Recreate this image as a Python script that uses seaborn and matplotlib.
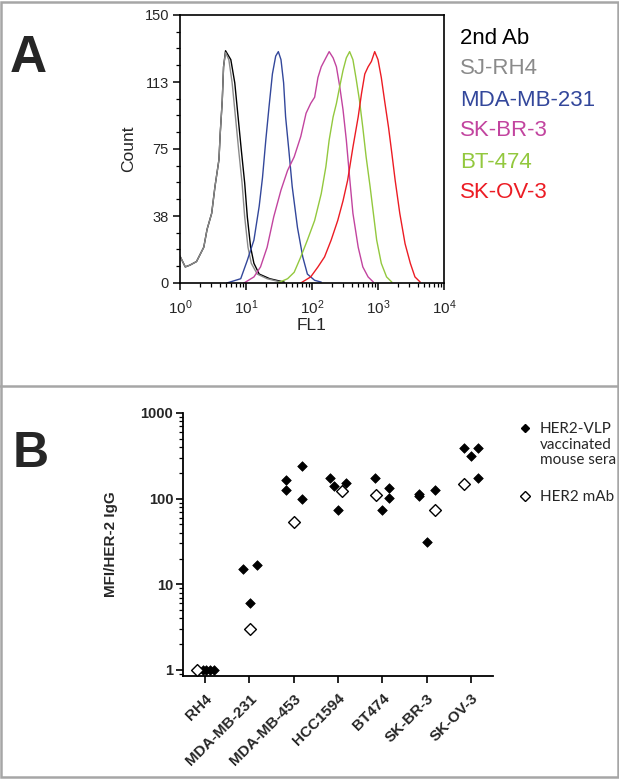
import numpy as np
import pandas as pd
import seaborn as sns
import matplotlib.pyplot as plt
from matplotlib.lines import Line2D
from matplotlib.ticker import FixedLocator, LogLocator, NullFormatter, AutoMinorLocator

# --- panel A : FACS histograms (x = log10 FL1, y = count)
ab2_log = [0.00, 0.08, 0.15, 0.25, 0.36, 0.41, 0.48, 0.53, 0.59, 0.61, 0.64, 0.66, 0.69,
           0.77, 0.83, 0.88, 0.93, 0.98, 1.02, 1.07, 1.12, 1.20, 1.36, 1.58]
ab2_cnt = [15, 9, 10, 12, 20, 30, 39, 54, 69, 84, 102, 121, 130,
           125, 112, 93, 74, 56, 37, 20, 11, 5, 2.4, 0.5]
rh4_log = [0.00, 0.08, 0.15, 0.25, 0.36, 0.41, 0.48, 0.53, 0.59, 0.61, 0.64, 0.66, 0.69,
           0.74, 0.79, 0.84, 0.89, 0.94, 0.98, 1.03, 1.08, 1.17, 1.32, 1.53]
rh4_cnt = [15, 9, 10, 12, 20, 30, 39, 54, 69, 84, 102, 121, 129,
           125, 112, 93, 74, 56, 37, 20, 11, 5, 2.4, 0.5]
mda231_log = [0.71, 0.92, 1.02, 1.12, 1.20, 1.25, 1.30, 1.35, 1.40, 1.45, 1.49,
              1.53, 1.57, 1.60, 1.65, 1.70, 1.78, 1.86, 1.93, 2.04, 2.14]
mda231_cnt = [0, 2.4, 12.7, 24, 43, 59, 80, 99, 117, 127, 129.5,
              125, 112, 93, 74, 54, 31, 14.6, 5, 1.5, 0.5]
skbr3_log = [0.97, 1.12, 1.22, 1.32, 1.42, 1.53, 1.63, 1.73, 1.83, 1.91, 1.98, 2.04, 2.09, 2.14,
             2.21, 2.26, 2.32, 2.37, 2.42, 2.47, 2.52, 2.57, 2.62, 2.70, 2.77, 2.85, 2.93]
skbr3_cnt = [0, 3.4, 9, 20, 37, 52, 63, 70.6, 82, 95, 100.5, 104, 115, 121,
             126, 129.5, 126, 121, 110, 97, 80, 59, 39, 20, 9, 3.4, 0.5]
bt474_log = [1.48, 1.63, 1.73, 1.83, 1.93, 2.04, 2.14, 2.21, 2.26, 2.32, 2.37, 2.42, 2.47,
             2.52, 2.57, 2.62, 2.67, 2.72, 2.77, 2.82, 2.88, 2.93, 2.98, 3.05, 3.13, 3.21]
bt474_cnt = [0, 2.4, 6, 14.6, 24, 35, 50, 65, 80, 93, 100.5, 110, 119,
             126, 129.5, 125, 114, 102, 87, 70.6, 54, 39, 24, 11, 3.4, 0.5]
skov3_log = [1.83, 1.98, 2.09, 2.19, 2.29, 2.39, 2.47, 2.54, 2.62, 2.70, 2.75, 2.80, 2.85,
             2.90, 2.95, 3.00, 3.05, 3.10, 3.16, 3.21, 3.26, 3.33, 3.41, 3.49, 3.56, 3.64]
skov3_cnt = [0, 3.4, 9, 14.6, 24, 35, 46, 57.5, 76, 93, 106, 117, 121,
             124, 129.5, 125, 115, 102, 87, 72.5, 57.5, 39, 22, 11, 3.4, 0.5]

hist_names = ["2nd Ab", "SJ-RH4", "MDA-MB-231", "SK-BR-3", "BT-474", "SK-OV-3"]
hist_logs = [ab2_log, rh4_log, mda231_log, skbr3_log, bt474_log, skov3_log]
hist_cnts = [ab2_cnt, rh4_cnt, mda231_cnt, skbr3_cnt, bt474_cnt, skov3_cnt]
hist_colors = ["#000000", "#8a8a8a", "#33479b", "#c2449f", "#93c83e", "#ec1c24"]

count_ticks = [0, 37.5, 75, 112.5, 150]
count_labels = ["0", "38", "75", "113", "150"]

# --- panel B : MFI / HER-2 IgG per cell line
cell_lines = ["RH4", "MDA-MB-231", "MDA-MB-453", "HCC1594", "BT474", "SK-BR-3", "SK-OV-3"]
sera_cell = [0, 0, 0, 0, 1, 1, 1, 2, 2, 2, 2, 3, 3, 3, 3, 4, 4, 4, 4, 5, 5, 5, 5, 6, 6, 6, 6]
sera_jit = [-0.05, 0.03, 0.11, 0.19, -0.14, 0.02, 0.18, -0.18, -0.18, 0.18, 0.18,
            -0.18, -0.09, 0.0, 0.18, -0.16, 0.0, 0.16, 0.16, -0.16, -0.16, 0.0, 0.18,
            -0.16, 0.16, 0.0, 0.16]
sera_mfi = [1, 1, 1, 1, 15, 6, 17, 166, 127, 242, 100, 175, 142, 74.5, 153,
            175, 74, 134, 103, 114, 108, 31, 127, 392, 392, 316, 175]
mab_cell = [0, 1, 2, 3, 4, 5, 6]
mab_jit = [-0.18, 0.02, 0.0, 0.09, -0.14, 0.18, -0.16]
mab_mfi = [1, 3, 54, 124, 111, 74.5, 149]

sns.set_theme(style="ticks")
plt.rcParams["font.family"] = ["Liberation Sans", "DejaVu Sans"]

W, H = 619, 779
fig = plt.figure(figsize=(W / 100, H / 100), dpi=100)

# ---------------- panel A
ax1 = fig.add_axes([180 / W, 1 - 283 / H, 264 / W, 268 / H])
for name, lg, cn, col in zip(hist_names, hist_logs, hist_cnts, hist_colors):
    d = pd.DataFrame({"FL1": 10 ** np.array(lg), "Count": cn})
    sns.lineplot(data=d, x="FL1", y="Count", color=col, lw=1.0, sort=False,
                 estimator=None, ax=ax1)
ax1.set_xscale("log")
ax1.set_xlim(1, 1e4)
ax1.set_ylim(0, 150)
ax1.yaxis.set_major_locator(FixedLocator(count_ticks))
ax1.set_yticklabels(count_labels)
ax1.yaxis.set_minor_locator(AutoMinorLocator(4))
ax1.xaxis.set_minor_locator(LogLocator(base=10, subs=np.arange(2, 10)))
ax1.xaxis.set_minor_formatter(NullFormatter())
for s in ax1.spines.values():
    s.set_linewidth(1.2)
    s.set_color("black")
ax1.tick_params(which="major", length=5, width=1.1, labelsize=10.5, color="black", pad=3)
ax1.tick_params(which="minor", length=3, width=0.9, color="black")
ax1.tick_params(axis="x", labelsize=11, pad=6)
ax1.set_xlabel("FL1", fontsize=12.5, labelpad=1)
ax1.set_ylabel("Count", fontsize=12.5, labelpad=6)

for i, (name, col) in enumerate(zip(hist_names, hist_colors)):
    fig.text(460 / W, 1 - (38 + 31 * i) / H, name, color=col, fontsize=16, va="center")

# ---------------- panel B
ax2 = fig.add_axes([183 / W, 1 - 676 / H, 310 / W, 263 / H])
sera = pd.DataFrame({"x": np.array(sera_cell) + np.array(sera_jit), "MFI": sera_mfi})
mab = pd.DataFrame({"x": np.array(mab_cell) + np.array(mab_jit), "MFI": mab_mfi})
sns.scatterplot(data=sera, x="x", y="MFI", marker="D", color="black", edgecolor="black",
                s=24, linewidth=0.5, ax=ax2, zorder=3)
sns.scatterplot(data=mab, x="x", y="MFI", marker="D", facecolor="white", edgecolor="black",
                s=36, linewidth=1.0, ax=ax2, zorder=4)
ax2.set_yscale("log")
ax2.set_ylim(0.851, 1000)
ax2.set_xlim(-0.5, 6.5)
ax2.set_xticks(range(len(cell_lines)))
ax2.set_xticklabels(cell_lines, rotation=45, ha="right", rotation_mode="anchor",
                    fontweight="bold", fontsize=11)
ax2.set_yticks([1, 10, 100, 1000])
ax2.set_yticklabels(["1", "10", "100", "1000"], fontweight="bold", fontsize=10.5)
ax2.yaxis.set_minor_locator(LogLocator(base=10, subs=np.arange(2, 10)))
ax2.yaxis.set_minor_formatter(NullFormatter())
sns.despine(ax=ax2)
for s in ["left", "bottom"]:
    ax2.spines[s].set_linewidth(1.3)
    ax2.spines[s].set_color("black")
ax2.tick_params(which="major", length=5, width=1.2, color="black", pad=2)
ax2.tick_params(which="minor", length=3, width=0.9, color="black")
ax2.tick_params(axis="x", pad=6)
ax2.set_xlabel("")
ax2.set_ylabel("MFI/HER-2 IgG", fontweight="bold", fontsize=11, labelpad=16)

h_fill = Line2D([], [], marker="D", color="black", ls="none", ms=4.2)
h_none = Line2D([], [], ls="none")
h_open = Line2D([], [], marker="D", mfc="white", mec="black", mew=1.0, ls="none", ms=5.2)
leg_kw = dict(frameon=False, loc="upper left", bbox_transform=fig.transFigure,
              borderpad=0, borderaxespad=0, handlelength=1.0, handletextpad=0.5,
              labelspacing=0.1, prop={"family": "Lato", "size": 11})
leg1 = ax2.legend([h_fill, h_none, h_none], ["HER2-VLP", "vaccinated", "mouse sera"],
                  bbox_to_anchor=(517 / W, 1 - 422 / H), **leg_kw)
ax2.add_artist(leg1)
ax2.legend([h_open], ["HER2 mAb"], bbox_to_anchor=(517 / W, 1 - 490 / H), **leg_kw)

# panel letters, frame and divider
fig.text(10 / W, 1 - 72 / H, "A", fontsize=37, fontweight="bold", va="baseline")
fig.text(13 / W, 1 - 467 / H, "B", fontsize=36, fontweight="bold", va="baseline")
fig.add_artist(plt.Rectangle((0.0015, 0.002), 0.997, 0.996, transform=fig.transFigure,
                             fill=False, edgecolor="#a6a6a6", lw=1.8))
fig.add_artist(Line2D([0, 1], [1 - 386 / H, 1 - 386 / H], transform=fig.transFigure,
                      color="#a6a6a6", lw=1.8))

fig.savefig("out.png", dpi=100)
